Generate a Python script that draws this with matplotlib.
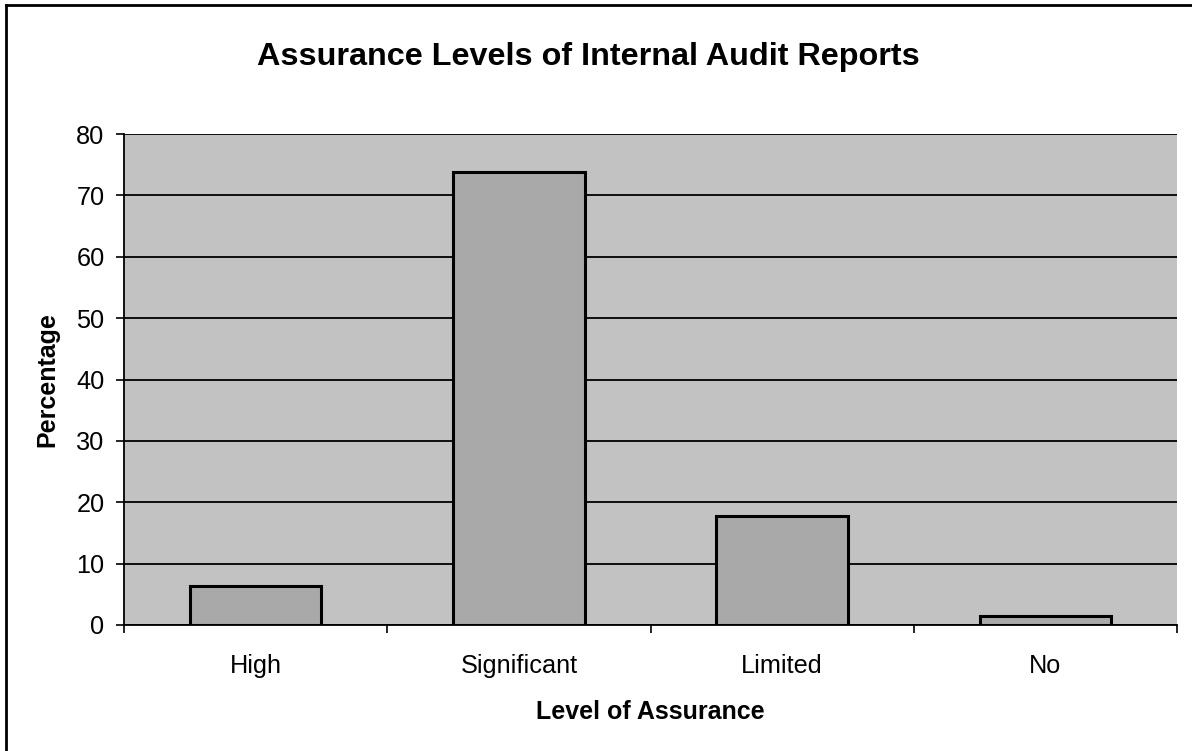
import matplotlib
matplotlib.use("Agg")
import matplotlib.pyplot as plt
from matplotlib.lines import Line2D
import numpy as np

categories = ["High", "Significant", "Limited", "No"]
percentages = [6.3, 73.8, 17.8, 1.5]
y_ticks = [0, 10, 20, 30, 40, 50, 60, 70, 80]

plt.rcParams['font.family'] = ['Liberation Sans', 'DejaVu Sans']

fig = plt.figure(figsize=(11.92, 7.51), dpi=100)
ax = fig.add_axes([124/1192, 1 - 625/751, (1177-124)/1192, (625-134)/751])

ax.set_facecolor('#c2c2c2')
x = np.arange(len(categories))
ax.bar(x, percentages, width=0.5, color='#a9a9a9', edgecolor='black', linewidth=2.2, zorder=3)

ax.set_xlim(-0.5, len(categories) - 0.5)
ax.set_ylim(0, 80)
ax.set_yticks(y_ticks)
ax.set_yticklabels([str(v) for v in y_ticks], fontsize=18.2)
ax.yaxis.grid(True, color='black', linewidth=1.3, zorder=1)
ax.set_axisbelow(True)

ax.set_xticks(x)
ax.set_xticklabels(categories, fontsize=18.2)
ax.tick_params(axis='x', which='major', length=0, pad=21)
ax.set_xticks(np.arange(-0.5, len(categories) + 0.5, 1.0), minor=True)
ax.tick_params(axis='x', which='minor', length=6, width=1.2, direction='out', color='black')
ax.tick_params(axis='y', which='major', length=6, width=1.2, direction='out', pad=8)

for s in ['top', 'right']:
    ax.spines[s].set_visible(False)
ax.spines['left'].set_linewidth(1.3)
ax.spines['bottom'].set_linewidth(1.3)

ax.set_xlabel("Level of Assurance", fontsize=18, fontweight='bold', labelpad=16)
ax.set_ylabel("Percentage", fontsize=18, fontweight='bold', labelpad=12)

fig.text(588/1192, 1 - 57/751, "Assurance Levels of Internal Audit Reports",
         fontsize=23.3, fontweight='bold', ha='center', va='center')

fig.add_artist(Line2D([6/1192, 6/1192], [0, 1 - 5/751], transform=fig.transFigure,
                      color='black', linewidth=2))
fig.add_artist(Line2D([6/1192, 1.0], [1 - 5/751, 1 - 5/751], transform=fig.transFigure,
                      color='black', linewidth=2))

fig.savefig("out.png", dpi=100)
